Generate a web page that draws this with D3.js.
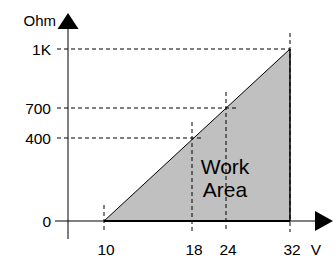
<!DOCTYPE html>
<html>
<head>
<meta charset="utf-8">
<script src="https://cdn.jsdelivr.net/npm/d3@7"></script>
<style>
  html, body { margin: 0; padding: 0; background: #fff; }
  svg { display: block; font-family: "Liberation Sans", Arial, sans-serif; }
</style>
</head>
<body>
<div id="chart"></div>
<script>
(function() {
// voltage ticks (V) and resistance ticks (Ohm)
const voltTicks = [10, 18, 24, 32];
const ohmTicks = [0, 400, 700, 1000];
const ohmLabels = ["0", "400", "700", "1K"];
// operating points on the boundary: [V, Ohm]
const boundary = [[10, 0], [18, 400], [24, 700], [32, 1000]];
const areaLabel = ["Work", "Area"];

const W = 334, H = 259;

const svg = d3.select('#chart')
  .append('svg')
  .attr('width', W)
  .attr('height', H);

// schematic (non-uniform) axes
const x = d3.scaleLinear().domain(voltTicks).range([104, 192, 226, 290]);
const y = d3.scaleLinear().domain(ohmTicks).range([221, 138, 108, 49]);

const x0 = 68;           // y-axis position
const yAxisY = y(0);

// work area polygon
const first = boundary[0], last = boundary[boundary.length - 1];
const poly = [first, last, [last[0], 0]];
svg.append('path')
  .attr('d', d3.line().x(d => x(d[0])).y(d => y(d[1]))(poly) + 'Z')
  .attr('fill', '#c0c0c0')
  .attr('stroke', 'none');

// hypotenuse
svg.append('line')
  .attr('x1', x(first[0])).attr('y1', y(first[1]))
  .attr('x2', x(last[0])).attr('y2', y(last[1]))
  .attr('stroke', '#000').attr('stroke-width', 1);

// dashed guides
const dash = '4,3';
boundary.forEach(d => {
  if (d[1] > 0) {
    svg.append('line')
      .attr('x1', 57).attr('y1', y(d[1]))
      .attr('x2', Math.min(x(d[0]) + 12, x(last[0]))).attr('y2', y(d[1]))
      .attr('stroke', '#000').attr('stroke-width', 1)
      .attr('stroke-dasharray', dash);
  }
  svg.append('line')
    .attr('x1', x(d[0])).attr('y1', y(d[1]) - 16)
    .attr('x2', x(d[0])).attr('y2', yAxisY + 11)
    .attr('stroke', '#000').attr('stroke-width', 1)
    .attr('stroke-dasharray', dash);
});

// right edge of area (solid)
svg.append('line')
  .attr('x1', x(last[0])).attr('y1', y(last[1]))
  .attr('x2', x(last[0])).attr('y2', yAxisY)
  .attr('stroke', '#000').attr('stroke-width', 1.5);

// x axis
svg.append('line')
  .attr('x1', 55).attr('y1', yAxisY)
  .attr('x2', 316).attr('y2', yAxisY)
  .attr('stroke', '#000').attr('stroke-width', 1);
svg.append('line')
  .attr('x1', x(first[0])).attr('y1', yAxisY)
  .attr('x2', x(last[0])).attr('y2', yAxisY)
  .attr('stroke', '#000').attr('stroke-width', 2);
svg.append('path')
  .attr('d', `M315,${yAxisY - 10}L333,${yAxisY}L315,${yAxisY + 10}Z`)
  .attr('fill', '#000');

// y axis
svg.append('line')
  .attr('x1', x0).attr('y1', 28)
  .attr('x2', x0).attr('y2', 239)
  .attr('stroke', '#000').attr('stroke-width', 1);
svg.append('path')
  .attr('d', `M${x0 - 10.5},29L${x0},13L${x0 + 10.5},29Z`)
  .attr('fill', '#000');

// y tick labels
svg.selectAll('.ylab')
  .data(ohmTicks)
  .enter()
  .append('text')
  .attr('class', 'ylab')
  .attr('x', 51)
  .attr('y', d => y(d))
  .attr('dy', '0.36em')
  .attr('text-anchor', 'end')
  .attr('font-size', 15.5)
  .text((d, i) => ohmLabels[i]);

// x tick labels
svg.selectAll('.xlab')
  .data(voltTicks)
  .enter()
  .append('text')
  .attr('class', 'xlab')
  .attr('x', d => x(d) + 2)
  .attr('y', 255)
  .attr('text-anchor', 'middle')
  .attr('font-size', 15.5)
  .text(d => d);

// axis titles
svg.append('text')
  .attr('x', 316).attr('y', 255)
  .attr('text-anchor', 'middle')
  .attr('font-size', 15.5)
  .text('V');
svg.append('text')
  .attr('x', 56).attr('y', 26)
  .attr('text-anchor', 'end')
  .attr('font-size', 15)
  .text('Ohm');

// area label
svg.selectAll('.alab')
  .data(areaLabel)
  .enter()
  .append('text')
  .attr('class', 'alab')
  .attr('x', 225)
  .attr('y', (d, i) => 174 + i * 23)
  .attr('text-anchor', 'middle')
  .attr('font-size', 21)
  .text(d => d);
})();
</script>
</body>
</html>
